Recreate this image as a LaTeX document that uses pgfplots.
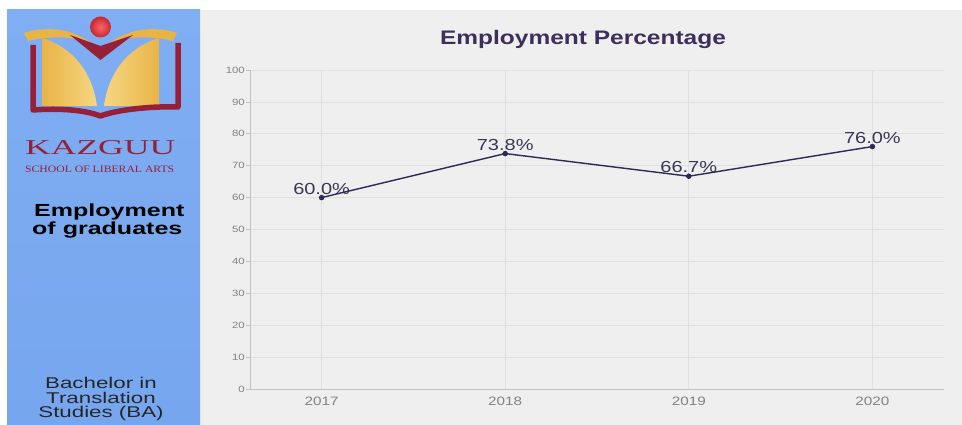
\documentclass[border=0pt]{standalone}
\usepackage{fontspec}
\setmainfont{Liberation Sans}
\newfontfamily\wf[FakeStretch=1.25]{Liberation Sans}
\newfontfamily\wfl[FakeStretch=1.43]{Liberation Sans}
\newfontfamily\serifw{Liberation Serif}
\usepackage{graphicx}
\usepackage{pgfplots}
\pgfplotsset{compat=1.18}
\definecolor{chartbg}{RGB}{239,239,239}
\definecolor{panelA}{RGB}{128,174,243}
\definecolor{panelB}{RGB}{118,166,238}
\definecolor{gridc}{RGB}{224,224,224}
\definecolor{axisc}{RGB}{192,192,192}
\definecolor{tickc}{RGB}{130,130,130}
\definecolor{titlec}{RGB}{62,46,92}
\definecolor{linec}{RGB}{44,42,88}
\definecolor{labc}{RGB}{58,55,85}
\definecolor{kazred}{RGB}{150,32,55}
\definecolor{ballred}{RGB}{196,40,50}
\definecolor{gold}{RGB}{232,180,70}
\definecolor{goldl}{RGB}{246,214,130}
\begin{document}
\begin{tikzpicture}[x=1pt,y=1pt]
\path[use as bounding box] (0,0) rectangle (962,425);
\fill[white] (0,0) rectangle (962,425);
\fill[chartbg] (200,0) rectangle (962,415);
\shade[top color=panelA, bottom color=panelB] (7,0) rectangle (200,415);
\begin{scope}[yshift=425pt, y=-1pt]
  % logo
  \fill[gold] (24,33) .. controls (45,26) and (70,28) .. (90,42) .. controls (70,36) and (48,36) .. (28,41) -- cycle;
  \fill[gold] (177,33) .. controls (156,26) and (131,28) .. (111,42) .. controls (131,36) and (153,36) .. (173,41) -- cycle;
  \shade[left color=gold, right color=goldl] (42,38) .. controls (75,48) and (93,75) .. (97,106) -- (42,106) -- cycle;
  \shade[left color=goldl, right color=gold] (159,38) .. controls (126,48) and (108,75) .. (104,106) -- (159,106) -- cycle;
  \draw[kazred, line width=5.5pt, line join=round] (33,45) -- (33,110) .. controls (60,108) and (85,110) .. (100.5,116) .. controls (116,110) and (150,106) .. (178,107) -- (178,43);
  \fill[kazred] (70,35) -- (100.5,46) -- (133,35) -- (100.5,60) -- cycle;
  \shade[inner color=red!60!white, outer color=ballred] (100.5,27) circle (10.5);
  \node[anchor=base west, inner sep=0pt, text=kazred] at (25,155) {\resizebox{150pt}{14pt}{\serifw KAZGUU}};
  \node[anchor=base west, inner sep=0pt, text=kazred] at (25,173) {\resizebox{149pt}{6.5pt}{\serifw SCHOOL OF LIBERAL ARTS}};
  \node[anchor=base west, inner sep=0pt] at (34,217) {\wfl\bfseries\fontsize{17.5}{20}\selectfont Employment};
  \node[anchor=base west, inner sep=0pt] at (32,235) {\wfl\bfseries\fontsize{17.5}{20}\selectfont of graduates};
  \node[anchor=base, inner sep=0pt, text=black!85] at (101,389) {\wfl\fontsize{15.6}{15}\selectfont Bachelor in};
  \node[anchor=base, inner sep=0pt, text=black!85] at (101,403.5) {\wfl\fontsize{15.6}{15}\selectfont Translation};
  \node[anchor=base, inner sep=0pt, text=black!85] at (101,418) {\wfl\fontsize{15.6}{15}\selectfont Studies (BA)};
  % title
  \node[anchor=base, inner sep=0pt, text=titlec] at (583,45) {\wf\bfseries\fontsize{19.6}{22}\selectfont Employment Percentage};
\end{scope}
\begin{axis}[
  at={(250pt,36pt)}, anchor=south west,
  scale only axis, width=694pt, height=319pt,
  xmin=2016.61, xmax=2020.39, ymin=0, ymax=100,
  xtick={2017,2018,2019,2020},
  ytick={0,10,...,100},
  /pgf/number format/assume math mode=true,
  /pgf/number format/1000 sep={},
  axis x line*=bottom, axis y line*=left,
  axis line style={draw=axisc, line width=0.9pt},
  grid=major,
  major grid style={draw=gridc, line width=0.7pt},
  tick align=outside,
  major tick length=4pt,
  xtick style={draw=none},
  ytick style={draw=axisc, line width=0.7pt},
  yticklabel style={font=\wf\fontsize{9.1}{10}\selectfont, text=tickc, inner sep=1pt},
  xticklabel style={font=\wf\fontsize{12.2}{13}\selectfont, text=tickc, inner sep=0pt, yshift=-4pt},
  clip=false,
]
\addplot[color=linec, line width=1.4pt, mark=*, mark size=2pt, mark options={fill=linec, draw=linec},
  point meta=y,
  nodes near coords={\pgfmathprintnumber[fixed,fixed zerofill,precision=1]{\pgfplotspointmeta}\%},
  every node near coord/.append style={anchor=south, inner sep=0pt, yshift=2.5pt, text=labc, font=\wf\fontsize{16}{16}\selectfont},
] coordinates {
  (2017,60.0) (2018,73.8) (2019,66.7) (2020,76.0)
};
\end{axis}
\end{tikzpicture}
\end{document}
